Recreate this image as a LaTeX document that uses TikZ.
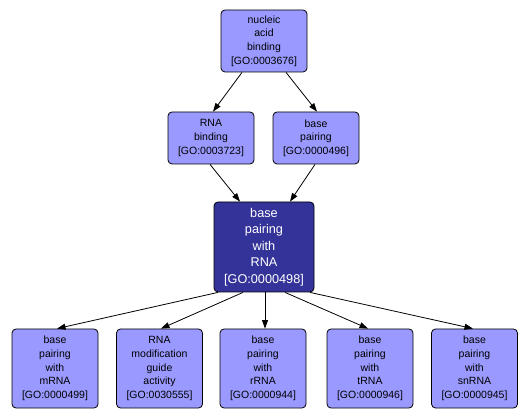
\documentclass[tikz,border=0pt]{standalone}
\usepackage{fontspec}
\setmainfont{Liberation Sans}
\usetikzlibrary{arrows.meta}

\definecolor{goLight}{RGB}{153,153,255}
\definecolor{goDark}{RGB}{51,51,153}

\begin{document}
\begin{tikzpicture}[x=1pt,y=-1pt,line width=0.8pt,>={Triangle[length=8.5pt,width=6pt]},
  term/.style={draw=black,fill=goLight,rounded corners=4pt,align=center,inner sep=0pt,
    font=\fontsize{10.5}{13.7}\selectfont,minimum width=86pt},
  focus/.style={term,fill=goDark,text=white,minimum width=100pt,minimum height=90pt,
    font=\fontsize{12.7}{16.5}\selectfont}]
  \useasboundingbox (0,0) rectangle (530,419);
  % --- top ---
  \node[term,minimum height=62pt] (nab) at (264,41) {nucleic\\acid\\binding\\{}[GO:0003676]};
  % --- middle ---
  \node[term,minimum height=52pt] (rnab) at (211,138) {RNA\\binding\\{}[GO:0003723]};
  \node[term,minimum height=52pt] (bp) at (316,138) {base\\pairing\\{}[GO:0000496]};
  \node[focus] (bprna) at (264,247) {base\\pairing\\with\\RNA\\{}[GO:0000498]};
  % --- bottom row ---
  \node[term,minimum height=79pt] (mrna) at (55,368.5) {base\\pairing\\with\\mRNA\\{}[GO:0000499]};
  \node[term,minimum height=79pt] (guide) at (159.5,368.5) {RNA\\modification\\guide\\activity\\{}[GO:0030555]};
  \node[term,minimum height=79pt] (rrna) at (263,368.5) {base\\pairing\\with\\rRNA\\{}[GO:0000944]};
  \node[term,minimum height=79pt] (trna) at (370,368.5) {base\\pairing\\with\\tRNA\\{}[GO:0000946]};
  \node[term,minimum height=79pt] (snrna) at (474.5,368.5) {base\\pairing\\with\\snRNA\\{}[GO:0000945]};
  % edges
  \draw[->] ([xshift=-22pt]nab.south) -- ([xshift=2pt]rnab.north);
  \draw[->] ([xshift=22pt]nab.south) -- ([xshift=1pt]bp.north);
  \draw[->] ([xshift=-1pt]rnab.south) -- ([xshift=-24pt]bprna.north);
  \draw[->] ([xshift=-1pt]bp.south) -- ([xshift=26pt]bprna.north);
  \draw[->] ([xshift=-46pt]bprna.south) -- ([xshift=2pt]mrna.north);
  \draw[->] ([xshift=-21pt]bprna.south) -- ([xshift=1.5pt]guide.north);
  \draw[->] ([xshift=1pt]bprna.south) -- ([xshift=2pt]rrna.north);
  \draw[->] ([xshift=21pt]bprna.south) -- ([xshift=-2pt]trna.north);
  \draw[->] ([xshift=46pt]bprna.south) -- ([xshift=-1.5pt]snrna.north);
\end{tikzpicture}
\end{document}
